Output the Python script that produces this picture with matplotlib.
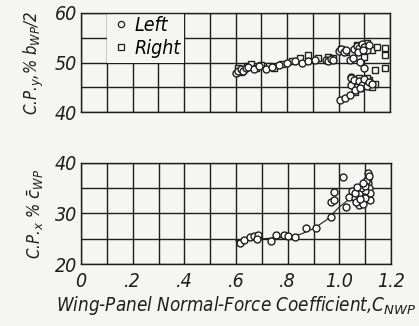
import matplotlib
matplotlib.use("Agg")
import matplotlib.pyplot as plt
from matplotlib.lines import Line2D
from matplotlib.patches import Rectangle
import numpy as np

BG = "#f5f5f3"
INK = "#1e1e1e"

# Spanwise centre of pressure, left panel (circles)
left_cn = [0.60, 0.61, 0.62, 0.63, 0.64, 0.65, 0.67, 0.69, 0.72, 0.74, 0.77, 0.80,
           0.83, 0.86, 0.88, 0.91, 0.95, 0.96, 0.97, 0.98,
           1.006, 1.025, 1.045, 1.045, 1.056, 1.083, 1.10, 1.047, 1.048,
           1.00, 1.01, 1.02, 1.03,
           1.06, 1.07, 1.08, 1.09, 1.10, 1.11, 1.12, 1.075, 1.095,
           1.05, 1.06, 1.07, 1.08, 1.09, 1.10, 1.11, 1.12, 1.13, 1.065, 1.085]
left_cpy = [47.8, 48.3, 48.6, 48.2, 48.8, 49.1, 48.7, 49.2, 48.6, 49.0, 49.5, 49.9,
            50.3, 50.0, 50.4, 50.6, 50.6, 50.3, 50.8, 50.5,
            42.4, 42.8, 43.4, 50.5, 50.9, 50.1, 48.9, 47.1, 46.9,
            52.3, 52.8, 52.2, 52.6,
            52.8, 53.4, 53.0, 53.8, 53.2, 52.6, 53.5, 52.2, 52.5,
            45.5, 46.5, 45.0, 46.2, 45.4, 46.6, 45.2, 46.0, 45.6, 44.5, 44.8]

# Spanwise centre of pressure, right panel (squares)
right_cn = [0.61, 0.62, 0.63, 0.645, 0.66, 0.68, 0.70, 0.73, 0.75, 0.78, 0.82, 0.85,
            0.88, 0.92, 0.96, 0.97, 0.98,
            1.01, 1.03, 1.07, 1.09, 1.11, 1.13, 1.10, 1.15, 1.18, 1.18,
            1.14, 1.18, 1.064, 1.083,
            1.06, 1.08, 1.10, 1.12, 1.14, 1.07, 1.09, 1.11, 1.13]
right_cpy = [48.9, 48.0, 48.4, 49.3, 49.6, 48.9, 49.5, 49.3, 48.9, 49.7, 50.4, 50.9,
             51.6, 51.0, 51.1, 50.5, 50.9,
             52.8, 52.2, 53.5, 52.8, 54.0, 52.5, 51.1, 53.1, 52.9, 51.5,
             48.5, 48.9, 44.0, 44.8,
             45.8, 46.8, 45.5, 46.4, 45.6, 45.2, 46.0, 46.9, 45.0]

# Chordwise centre of pressure
chord_cn = [0.617, 0.63, 0.656, 0.668, 0.687, 0.683, 0.734, 0.753, 0.785, 0.80, 0.83,
            0.87, 0.91, 0.967, 0.967, 0.98, 0.98, 1.013, 1.025, 1.037, 1.076,
            1.11, 1.11, 1.11, 1.115, 1.12, 1.12,
            1.06, 1.07, 1.08, 1.09, 1.10, 1.095, 1.065, 1.085, 1.10, 1.105,
            1.075, 1.09, 1.05, 1.06, 1.08, 1.10, 1.07, 1.09, 1.115]
chord_cpx = [24.2, 24.8, 25.3, 25.5, 25.7, 25.0, 24.6, 25.7, 25.7, 25.5, 25.3,
             27.1, 27.1, 29.3, 32.3, 32.7, 34.2, 37.2, 31.3, 33.3, 31.7,
             38.0, 37.0, 36.0, 35.0, 32.7, 34.0,
             33.0, 34.0, 33.5, 32.5, 34.5, 33.2, 32.3, 35.0, 33.0, 36.5,
             33.8, 31.8, 34.5, 34.0, 32.8, 35.5, 35.2, 36.0, 37.5]

# Faired curve through the chordwise data
fair_cn = [0.60, 0.70, 0.80, 0.85, 0.90, 0.95, 1.00, 1.05, 1.08]
fair_cpx = [24.6, 25.0, 25.3, 25.9, 27.0, 28.7, 31.3, 33.3, 34.2]

x_ticks = [0, 0.2, 0.4, 0.6, 0.8, 1.0, 1.2]
x_ticklabels = ["0", ".2", ".4", ".6", ".8", "1.0", "1.2"]

font = dict(family="DejaVu Sans", stretch="condensed", style="oblique")

fig = plt.figure(figsize=(4.19, 3.26), dpi=100, facecolor=BG)
ax_top = fig.add_axes([81 / 419, 1 - 112 / 326, 309 / 419, 99 / 326])
ax_bot = fig.add_axes([81 / 419, 1 - 264 / 326, 310 / 419, 101 / 326])


def style_grid(ax, ylo, yhi):
    ax.set_facecolor(BG)
    ax.set_xlim(0, 1.2)
    ax.set_ylim(ylo, yhi)
    ax.set_xticks(np.arange(0, 1.21, 0.1), minor=True)
    ax.set_yticks(np.arange(ylo, yhi + 0.1, 5), minor=True)
    ax.set_yticks(np.arange(ylo, yhi + 0.1, 10))
    ax.grid(True, which="both", color=INK, linewidth=1.0)
    ax.set_axisbelow(True)
    for s in ax.spines.values():
        s.set_color(INK)
        s.set_linewidth(1.0)
    ax.tick_params(which="both", length=0, pad=3, colors=INK)


mk = dict(linestyle="none", markerfacecolor="white", markeredgecolor=INK,
          markeredgewidth=1.0, markersize=5.0)

# Upper panel: spanwise CP
style_grid(ax_top, 40, 60)
ax_top.set_xticks(x_ticks)
ax_top.set_xticklabels([])
for lab in ax_top.get_yticklabels():
    lab.set_fontproperties(dict(size=14, **font))
ax_top.plot(right_cn, right_cpy, marker="s", zorder=3, **mk)
ax_top.plot(left_cn, left_cpy, marker="o", zorder=3, **mk)
ax_top.add_patch(Rectangle((0.1, 50), 0.3, 10, facecolor=BG, edgecolor="none", zorder=1.5))
handles = [Line2D([], [], marker="o", linestyle="none", markerfacecolor="none",
                  markeredgecolor=INK, markersize=4.5, markeredgewidth=0.9),
           Line2D([], [], marker="s", linestyle="none", markerfacecolor="none",
                  markeredgecolor=INK, markersize=4.0, markeredgewidth=0.9)]
leg = ax_top.legend(handles, ["Left", "Right"], loc="upper left",
                    bbox_to_anchor=(0.048, 1.15), frameon=False, handlelength=0.8,
                    handletextpad=0.3, labelspacing=0.2,
                    prop=dict(size=14, **font))
leg.set_zorder(4)
ax_top.set_ylabel("C.P.$_y$,% b$_{WP}$/2", fontsize=12, color=INK, labelpad=6, **font)

# Lower panel: chordwise CP
style_grid(ax_bot, 20, 40)
ax_bot.set_xticks(x_ticks)
ax_bot.set_xticklabels(x_ticklabels)
for lab in ax_bot.get_xticklabels() + ax_bot.get_yticklabels():
    lab.set_fontproperties(dict(size=14, **font))
ax_bot.tick_params(axis="x", pad=6)
ax_bot.plot(fair_cn, fair_cpx, color=INK, linewidth=0.8, zorder=2)
ax_bot.plot(chord_cn, chord_cpx, marker="o", zorder=3, **mk)
ax_bot.set_ylabel(r"C.P.$_x$ % $\bar{c}_{WP}$", fontsize=12, color=INK, labelpad=6, **font)
ax_bot.set_xlabel("Wing-Panel Normal-Force Coefficient,C$_{NWP}$", fontsize=13.5,
                  color=INK, labelpad=2, **font)

fig.savefig("out.png", dpi=100, facecolor=BG)
